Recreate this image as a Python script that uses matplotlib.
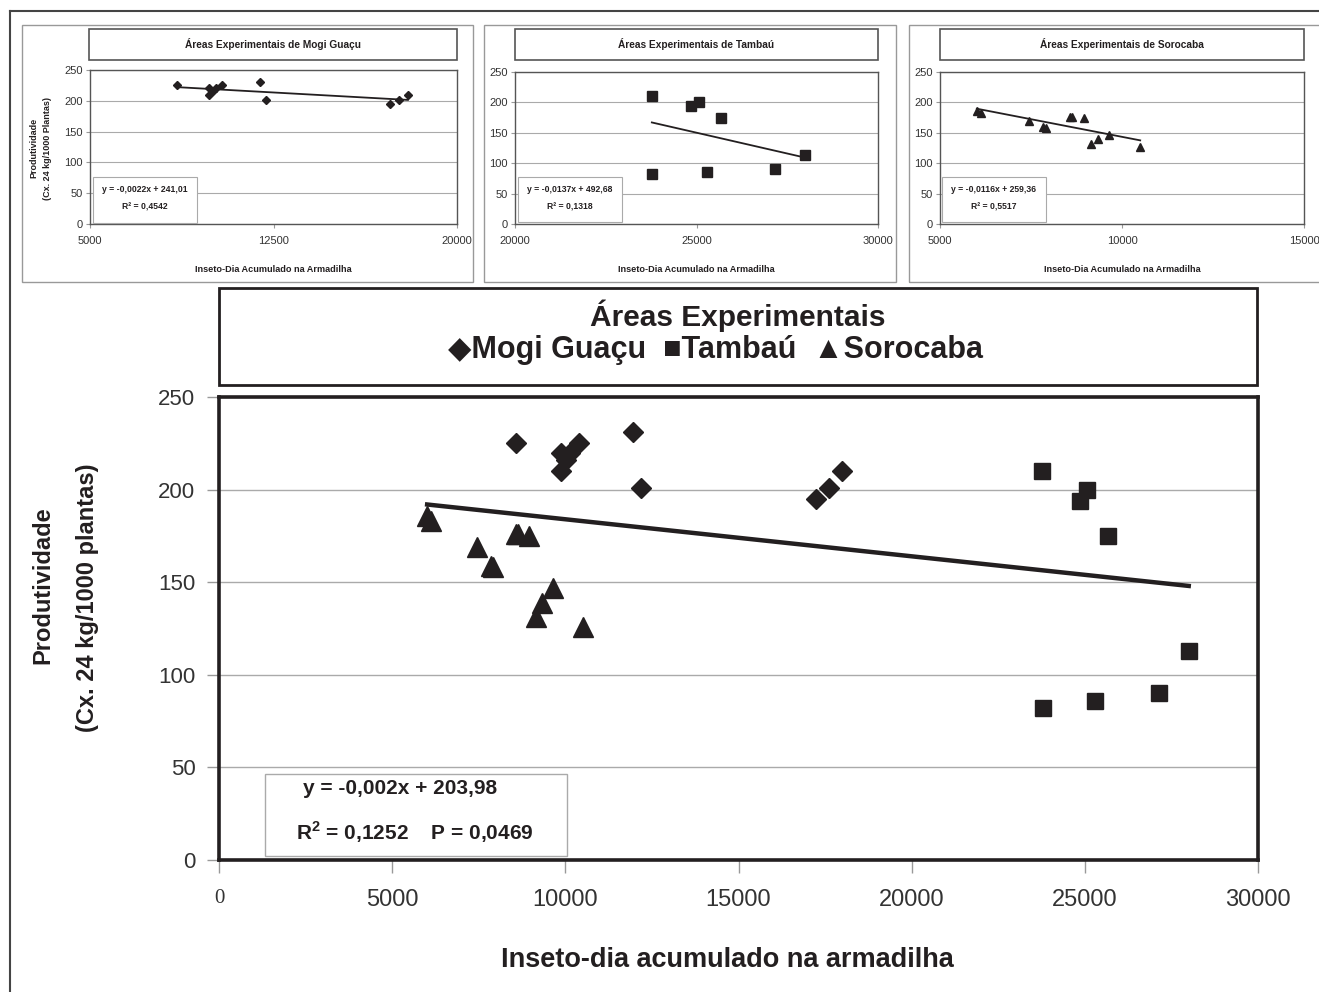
import numpy as np
import matplotlib.pyplot as plt
from matplotlib.patches import Rectangle
from matplotlib.lines import Line2D

# DATA
mogi_x = [8573, 9868, 9868, 10018, 10141, 10386, 11941, 12186, 17245, 17614, 17995]
mogi_y = [225, 220, 210, 216, 220, 225, 231, 201, 195, 201, 210]
tamb_x = [23770, 24850, 25060, 25675, 23780, 25300, 27150, 28000]
tamb_y = [210, 194, 200, 175, 82, 86, 90, 113]
soro_x = [6010, 6130, 7440, 7840, 7900, 8570, 8630, 8960, 9140, 9340, 9650, 10500]
soro_y = [186, 183, 169, 159, 158, 176, 176, 175, 131, 139, 147, 126]

# trend lines (slope, intercept) as printed on the chart
mogi_fit = (-0.0022, 241.01)
tamb_fit = (-0.0137, 492.68)
soro_fit = (-0.0116, 259.36)
all_fit = (-0.002, 203.98)

mogi_eq = ["y = -0,0022x + 241,01", "R² = 0,4542"]
tamb_eq = ["y = -0,0137x + 492,68", "R² = 0,1318"]
soro_eq = ["y = -0,0116x + 259,36", "R² = 0,5517"]

main_xticks = [0, 5000, 10000, 15000, 20000, 25000, 30000]
main_yticks = [0, 50, 100, 150, 200, 250]

plt.rcParams['font.family'] = ['Liberation Sans', 'DejaVu Sans']
plt.rcParams['mathtext.fontset'] = 'custom'
plt.rcParams['mathtext.bf'] = 'Liberation Sans:bold'
plt.rcParams['mathtext.rm'] = 'Liberation Sans'

INK = '#231f20'
W, H = 1319, 992


def box(l, t, r, b):
    # pixel box -> figure fraction rect
    return [l / W, 1 - b / H, (r - l) / W, (b - t) / H]


def ftext(x, y, s, **kw):
    fig.text(x / W, 1 - y / H, s, **kw)


def frect(l, t, r, b, ec, lw, fc='none', z=0):
    fig.patches.append(Rectangle((l / W, 1 - b / H), (r - l) / W, (b - t) / H,
                                 transform=fig.transFigure, fill=fc != 'none',
                                 facecolor=fc, edgecolor=ec, lw=lw, zorder=z))


fig = plt.figure(figsize=(W / 100, H / 100), dpi=100)
fig.patch.set_facecolor('white')

# outer page frame (top and left only)
fig.lines.append(Line2D([10 / W, 1], [1 - 11 / H, 1 - 11 / H], transform=fig.transFigure,
                        color='#444', lw=1.5))
fig.lines.append(Line2D([10 / W, 10 / W], [1 - 11 / H, 0], transform=fig.transFigure,
                        color='#444', lw=1.5))

# ---------- small panels ----------
panels = [
    dict(x=mogi_x, y=mogi_y, fit=mogi_fit, eq=mogi_eq, marker='D', ms=4.3,
         title="Áreas Experimentais de Mogi Guaçu", xt=[5000, 12500, 20000],
         frame=(22, 25, 473, 282), tbox=(89, 29, 457, 60), ax=(90, 70, 457, 224),
         ebox=(93, 177, 197, 223), ylab=True),
    dict(x=tamb_x, y=tamb_y, fit=tamb_fit, eq=tamb_eq, marker='s', ms=6.5,
         title="Áreas Experimentais de Tambaú", xt=[20000, 25000, 30000],
         frame=(484, 25, 896, 282), tbox=(515, 29, 878, 60), ax=(515, 72, 878, 224),
         ebox=(518, 177, 622, 222), ylab=False),
    dict(x=soro_x, y=soro_y, fit=soro_fit, eq=soro_eq, marker='^', ms=6.3,
         title="Áreas Experimentais de Sorocaba", xt=[5000, 10000, 15000],
         frame=(909, 25, 1330, 282), tbox=(940, 29, 1304, 60), ax=(940, 72, 1304, 224),
         ebox=(942, 177, 1046, 222), ylab=False),
]

for p in panels:
    frect(*p['frame'], ec='#999', lw=1)
    frect(*p['tbox'], ec='#555', lw=1.2)
    tl, tt, tr, tb = p['tbox']
    ftext((tl + tr) / 2, (tt + tb) / 2, p['title'], ha='center', va='center',
          fontsize=7.3, fontweight='bold', color=INK)

    a = fig.add_axes(box(*p['ax']))
    a.set_xlim(p['xt'][0], p['xt'][-1])
    a.set_ylim(0, 250)
    a.set_xticks(p['xt'])
    a.set_xticklabels([str(v) for v in p['xt']])
    a.set_yticks(main_yticks)
    for s in a.spines.values():
        s.set_color('#555')
        s.set_linewidth(1)
    a.grid(axis='y', color='#aaa', lw=0.8)
    a.set_axisbelow(True)
    a.tick_params(axis='both', labelsize=8, colors='#999', labelcolor='#333',
                  length=3, width=0.8, pad=2)
    a.tick_params(axis='x', pad=6)
    a.plot(p['x'], p['y'], linestyle='none', marker=p['marker'], ms=p['ms'],
           color=INK, zorder=3)
    m, c = p['fit']
    xs = np.array([min(p['x']), max(p['x'])])
    a.plot(xs, m * xs + c, color=INK, lw=1.3, zorder=4)

    el, et, er, eb = p['ebox']
    frect(el, et, er, eb, ec='#aaa', lw=0.8, fc='white', z=5)
    ftext((el + er) / 2, et + 12, p['eq'][0], ha='center', va='center',
          fontsize=6.2, fontweight='bold', color=INK, zorder=6)
    ftext((el + er) / 2, et + 30, p['eq'][1], ha='center', va='center',
          fontsize=6.2, fontweight='bold', color=INK, zorder=6)

    al, at, ar, ab = p['ax']
    ftext((al + ar) / 2, 269, "Inseto-Dia Acumulado na Armadilha", ha='center',
          va='center', fontsize=6.6, fontweight='bold', color=INK)
    if p['ylab']:
        ftext(34, 148, "Produtividade", rotation=90, ha='center', va='center',
              fontsize=6.5, fontweight='bold', color=INK)
        ftext(48, 148, "(Cx. 24 kg/1000 Plantas)", rotation=90, ha='center',
              va='center', fontsize=6.5, fontweight='bold', color=INK)

# ---------- main panel ----------
frect(219, 288, 1257, 385, ec=INK, lw=2)
ftext(738, 316, "Áreas Experimentais", ha='center', va='center',
      fontsize=21.5, fontweight='bold', color=INK)
ftext(716, 350, "◆Mogi Guaçu  ■Tambaú  ▲Sorocaba", ha='center', va='center',
      fontsize=22, fontweight='bold', color=INK)

ax = fig.add_axes(box(219, 397, 1258, 860))
ax.set_xlim(0, 30000)
ax.set_ylim(0, 250)
ax.set_xticks(main_xticks)
ax.set_xticklabels([str(v) for v in main_xticks])
ax.set_yticks(main_yticks)
ax.set_yticklabels([str(v) for v in main_yticks])
for s in ax.spines.values():
    s.set_color(INK)
    s.set_linewidth(2.6)
ax.grid(axis='y', color='#aaa', lw=1)
ax.set_axisbelow(True)
ax.tick_params(axis='y', labelsize=16, colors='#999', labelcolor='#333',
               length=9, width=1, pad=8)
ax.tick_params(axis='x', labelsize=17, colors='#999', labelcolor='#333',
               length=9, width=1, pad=12)
for i, lab in enumerate(ax.get_xticklabels()):
    if i == 0:
        lab.set_fontfamily(['Liberation Serif'])
        lab.set_fontsize(15)

ax.plot(mogi_x, mogi_y, linestyle='none', marker='D', ms=10.5, color=INK, zorder=3)
ax.plot(tamb_x, tamb_y, linestyle='none', marker='s', ms=11.5, color=INK, zorder=3)
ax.plot(soro_x, soro_y, linestyle='none', marker='^', ms=14.5, color=INK, zorder=3)

all_x = np.array(mogi_x + tamb_x + soro_x)
xs = np.array([all_x.min(), all_x.max()])
ax.plot(xs, all_fit[0] * xs + all_fit[1], color=INK, lw=3.2, zorder=4)

frect(265, 774, 567, 856, ec='#aaa', lw=1, fc='white', z=5)
ftext(400, 789, "y = -0,002x + 203,98", ha='center', va='center',
      fontsize=15, fontweight='bold', color=INK, zorder=6)
ftext(415, 832, r"R$^\mathbf{2}$ = 0,1252    P = 0,0469", ha='center', va='center',
      fontsize=15, fontweight='bold', color=INK, zorder=6)

ftext(43, 585, "Produtividade", rotation=90, ha='center', va='center',
      fontsize=17, fontweight='bold', color=INK)
ftext(88, 598, "(Cx. 24 kg/1000 plantas)", rotation=90, ha='center', va='center',
      fontsize=17, fontweight='bold', color=INK)
ftext(727, 960, "Inseto-dia acumulado na armadilha", ha='center', va='center',
      fontsize=19.5, fontweight='bold', color=INK)

fig.savefig('out.png', dpi=100, facecolor='white')
